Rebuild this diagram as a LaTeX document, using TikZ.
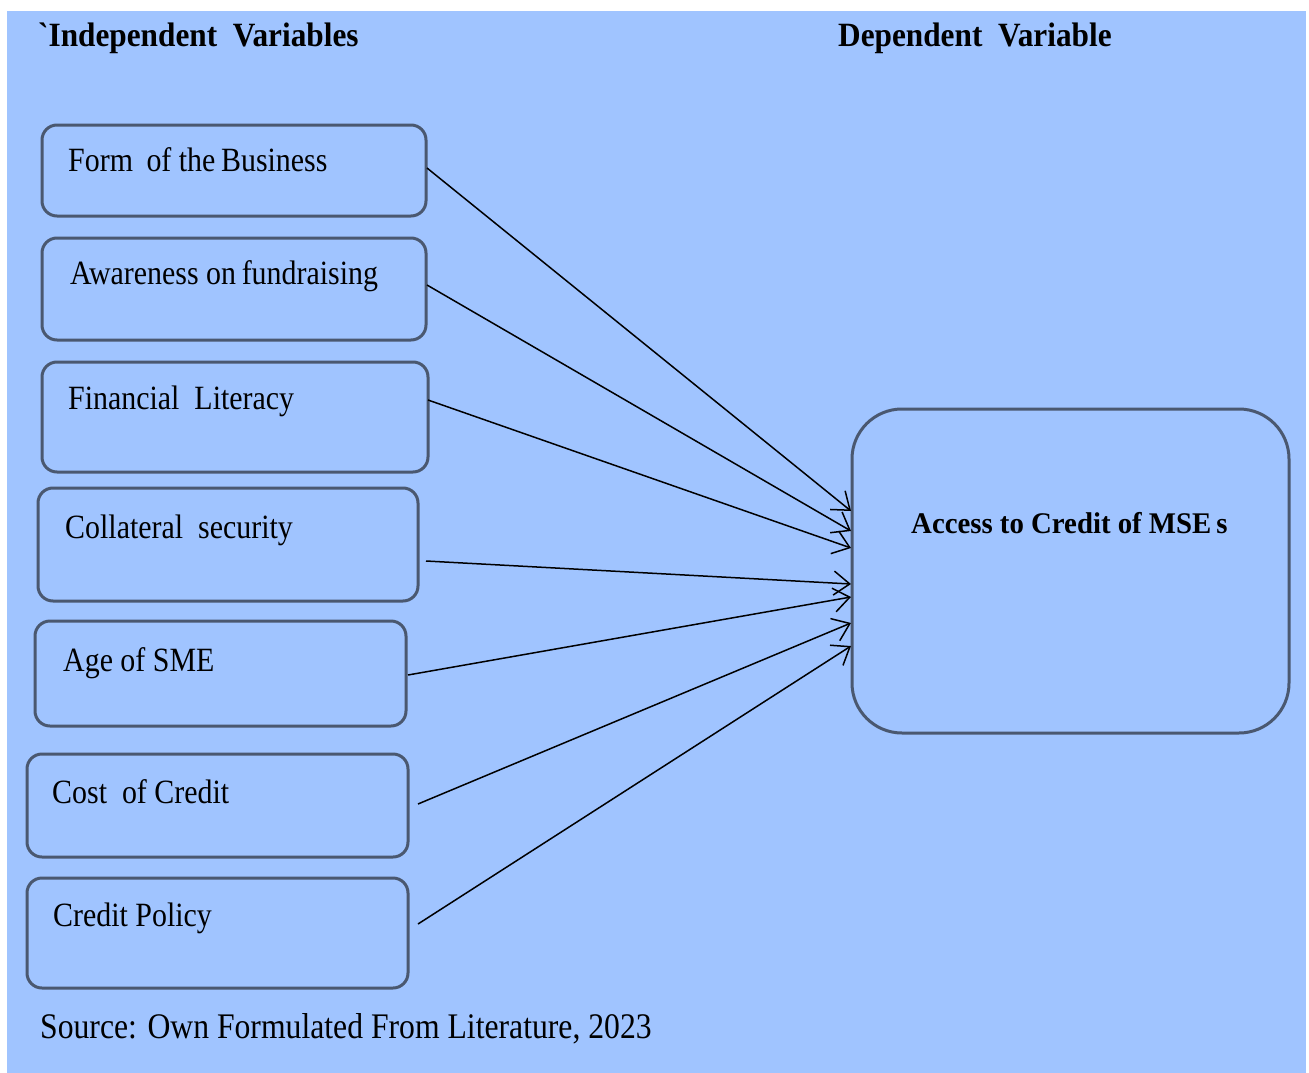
\documentclass[tikz,border=0pt]{standalone}
\usepackage{fontspec}
\setmainfont{Liberation Serif}[FakeStretch=0.88]
\newfontfamily\titlefont{Liberation Serif}[FakeStretch=0.92]
\newfontfamily\accfont{Liberation Serif}[FakeStretch=0.96]
\usetikzlibrary{arrows.meta}
\definecolor{bgblue}{RGB}{160,196,255}
\definecolor{boxline}{RGB}{74,88,112}
\tikzset{
  varbox/.style={draw=boxline, line width=3pt, rounded corners=15pt},
  bigbox/.style={draw=boxline, line width=3pt, rounded corners=50pt},
  lbl/.style={anchor=base west, inner sep=0pt, font=\fontsize{34}{40}\selectfont},
  ttl/.style={anchor=base west, inner sep=0pt, font=\titlefont\bfseries\fontsize{34}{40}\selectfont},
  conn/.style={line width=1.5pt, -{Straight Barb[length=16pt,width=24pt,line width=1.5pt]}}
}
\begin{document}
\begin{tikzpicture}[x=1pt,y=-1pt]
\useasboundingbox (0,0) rectangle (1309,1073);
\fill[white] (0,0) rectangle (1309,1073);
\fill[bgblue] (7,11) rectangle (1306,1073);

% boxes
\draw[varbox] (42,125) rectangle (426,216);
\draw[varbox] (42,238) rectangle (426,340);
\draw[varbox] (42,362) rectangle (428,472);
\draw[varbox] (38,488) rectangle (418,601);
\draw[varbox] (35,621) rectangle (406,726);
\draw[varbox] (27,754) rectangle (408,857);
\draw[varbox] (27,878) rectangle (408,988);
\draw[bigbox] (852,409) rectangle (1289,733);

% labels
\node[lbl] (t1) at (68,171) {Form\hspace{6pt} of the\,Business};
\node[lbl] (t2) at (70,284) {Awareness on\,fundraising};
\node[lbl] (t3) at (68,409) {Financial\ \ Literacy};
\node[lbl] (t4) at (65,538) {Collateral\ \ security};
\node[lbl] (t5) at (63,671) {Age of SME};
\node[lbl] (t6) at (52,803) {Cost\ \ of Credit};
\node[lbl] (t7) at (53,926) {Credit Policy};

\node[ttl] (h1) at (38,47) {`Independent\ \ Variables};
\node[ttl] (h2) at (838,47) {Dependent\ \ Variable};
\node[anchor=base west, inner sep=0pt, font=\accfont\bfseries\fontsize{30}{36}\selectfont] (acc) at (911,533) {Access to Credit of MSE\,s};
\node[lbl, font=\fontsize{36}{42}\selectfont] (src) at (40,1038) {Source: Own Formulated From Literature, 2023};

% connector ends
\coordinate (s1) at (427,168);
\coordinate (s2) at (427,285);
\coordinate (s3) at (428,400);
\coordinate (s4) at (426,561);
\coordinate (s5) at (408,675);
\coordinate (s6) at (418,804);
\coordinate (s7) at (418,924);
\coordinate (e1) at (851,511);
\coordinate (e2) at (851,531);
\coordinate (e3) at (851,548);
\coordinate (e4) at (851,584);
\coordinate (e5) at (851,597);
\coordinate (e6) at (851,623);
\coordinate (e7) at (851,646);

\draw[conn] (s1) -- (e1);
\draw[conn] (s2) -- (e2);
\draw[conn] (s3) -- (e3);
\draw[conn] (s4) -- (e4);
\draw[conn] (s5) -- (e5);
\draw[conn] (s6) -- (e6);
\draw[conn] (s7) -- (e7);
\end{tikzpicture}
\end{document}
